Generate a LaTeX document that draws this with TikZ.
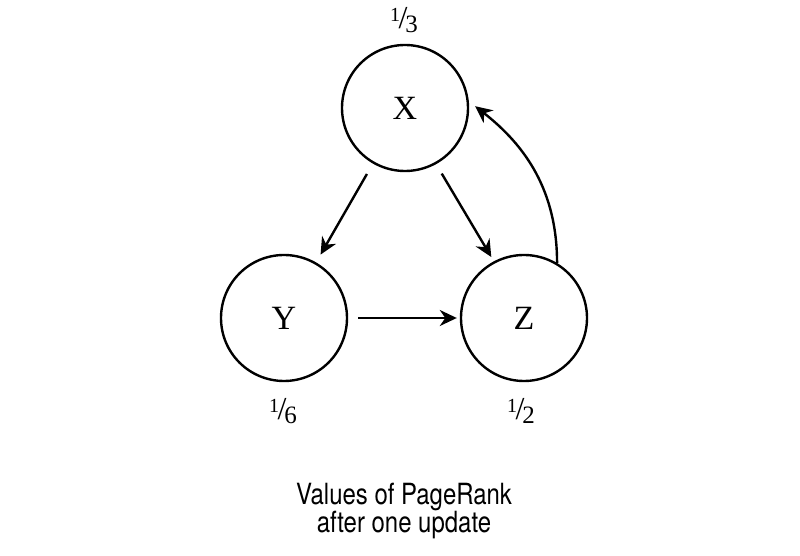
\documentclass[tikz,border=0pt]{standalone}
\usepackage{fontspec}
\setmainfont{Liberation Serif}
\newfontfamily\capfont[FakeStretch=0.82]{TeX Gyre Heros}
\usetikzlibrary{arrows.meta}
\newcommand\vfrac[2]{\raisebox{0.55ex}{\fontsize{10}{10}\selectfont #1}\kern-0.05em{\fontsize{16}{16}\selectfont /}\kern-0.08em\raisebox{-0.25ex}{\fontsize{12.5}{12.5}\selectfont #2}}
\tikzset{
  pnode/.style={circle,draw,line width=1.2pt,minimum size=63pt,inner sep=0pt,font=\fontsize{17}{17}\selectfont},
  link/.style={line width=1.2pt,-{Stealth[length=8.5pt,width=8pt]}},
  val/.style={inner sep=0pt,font=\fontsize{14}{14}\selectfont},
  captext/.style={inner sep=0pt,align=center,font=\capfont\fontsize{14.6}{14.2}\selectfont}
}
\begin{document}
\begin{tikzpicture}[x=0.5pt,y=-0.5pt]
\useasboundingbox (0,0) rectangle (800,556);
\node[pnode] (X) at (405,108) {X};
\node[pnode] (Y) at (284,318) {Y};
\node[pnode] (Z) at (524,318) {Z};
\node[val] (vx) at (404,20) {\vfrac{1}{3}};
\node[val] (vy) at (283,411) {\vfrac{1}{6}};
\node[val] (vz) at (521,411) {\vfrac{1}{2}};
\draw[link,shorten <=6pt,shorten >=4.5pt] (X.240) -- (Y.60);
\draw[link,shorten <=5.5pt,shorten >=2.5pt] (X.299) -- (Z.118);
\draw[link,shorten <=5pt,shorten >=1.5pt] (Y.east) -- (Z.west);
\draw[link,shorten >=4pt] (Z.59) to[out=90,in=-38] (X.6);
\node[captext] (c) at (404,511) {Values of PageRank\\after one update};
\end{tikzpicture}
\end{document}
